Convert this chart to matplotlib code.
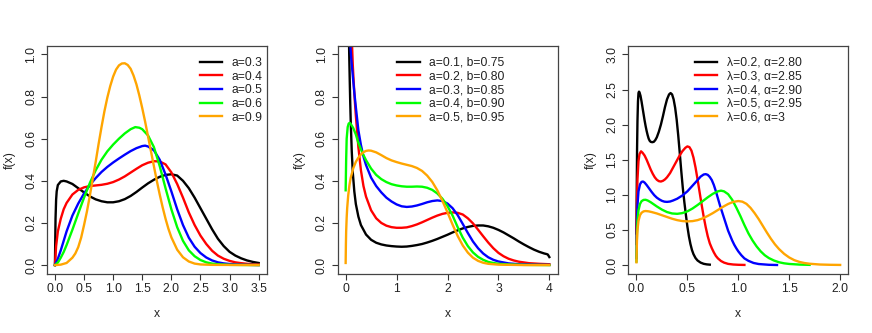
import matplotlib
matplotlib.use("Agg")
from matplotlib import pyplot as plt

plt.rcParams['font.family'] = ['Liberation Sans', 'DejaVu Sans']
plt.rcParams['font.size'] = 8.7

colors = ['black', '#FF0000', '#0000FF', '#00FF00', '#FFA500']

# ---- panel 1 : a = 0.3 .. 0.9
labels1 = ['a=0.3', 'a=0.4', 'a=0.5', 'a=0.6', 'a=0.9']
x1_black = [0, 0.01, 0.02, 0.03, 0.05, 0.1, 0.15, 0.2, 0.3, 0.4, 0.5, 0.6, 0.7, 0.8, 0.9, 1.0, 1.1, 1.2, 1.3, 1.4, 1.5, 1.6, 1.7, 1.8, 1.9, 2.0, 2.1, 2.2, 2.3, 2.4, 2.5, 2.6, 2.7, 2.8, 2.9, 3.0, 3.1, 3.2, 3.3, 3.4, 3.5]
y1_black = [0, 0.22, 0.31, 0.35, 0.38, 0.397, 0.40, 0.397, 0.385, 0.365, 0.345, 0.326, 0.312, 0.303, 0.298, 0.298, 0.303, 0.313, 0.328, 0.347, 0.368, 0.388, 0.405, 0.419, 0.428, 0.431, 0.425, 0.40, 0.365, 0.32, 0.27, 0.22, 0.17, 0.125, 0.09, 0.063, 0.045, 0.032, 0.022, 0.015, 0.01]
x1_red = [0, 0.02, 0.05, 0.1, 0.15, 0.2, 0.3, 0.4, 0.5, 0.6, 0.7, 0.8, 0.9, 1.0, 1.1, 1.2, 1.3, 1.4, 1.5, 1.6, 1.7, 1.8, 1.9, 2.0, 2.1, 2.2, 2.3, 2.4, 2.5, 2.6, 2.7, 2.8, 2.9, 3.0, 3.1, 3.2, 3.3, 3.4, 3.5]
y1_red = [0, 0.09, 0.16, 0.22, 0.265, 0.295, 0.335, 0.357, 0.369, 0.375, 0.378, 0.381, 0.386, 0.394, 0.406, 0.421, 0.439, 0.457, 0.474, 0.486, 0.493, 0.492, 0.478, 0.44, 0.385, 0.32, 0.25, 0.19, 0.14, 0.10, 0.068, 0.045, 0.03, 0.02, 0.013, 0.009, 0.006, 0.004, 0.003]
x1_blue = [0, 0.05, 0.1, 0.15, 0.2, 0.3, 0.4, 0.5, 0.6, 0.7, 0.8, 0.9, 1.0, 1.1, 1.2, 1.3, 1.4, 1.5, 1.55, 1.6, 1.7, 1.8, 1.9, 2.0, 2.1, 2.2, 2.3, 2.4, 2.5, 2.6, 2.7, 2.8, 2.9, 3.0, 3.2, 3.5]
y1_blue = [0, 0.03, 0.07, 0.115, 0.16, 0.235, 0.292, 0.34, 0.38, 0.413, 0.442, 0.466, 0.487, 0.506, 0.524, 0.541, 0.555, 0.565, 0.567, 0.563, 0.545, 0.50, 0.43, 0.35, 0.265, 0.19, 0.13, 0.087, 0.057, 0.036, 0.022, 0.013, 0.008, 0.005, 0.002, 0]
x1_green = [0, 0.05, 0.1, 0.15, 0.2, 0.3, 0.4, 0.5, 0.6, 0.7, 0.8, 0.9, 1.0, 1.1, 1.2, 1.3, 1.38, 1.45, 1.5, 1.6, 1.7, 1.8, 1.9, 2.0, 2.1, 2.2, 2.3, 2.4, 2.5, 2.6, 2.7, 2.8, 3.0, 3.5]
y1_green = [0, 0.012, 0.035, 0.062, 0.095, 0.168, 0.245, 0.32, 0.39, 0.45, 0.50, 0.54, 0.572, 0.60, 0.625, 0.645, 0.655, 0.652, 0.645, 0.615, 0.56, 0.47, 0.365, 0.265, 0.18, 0.115, 0.07, 0.042, 0.024, 0.013, 0.007, 0.004, 0.001, 0]
x1_orange = [0, 0.1, 0.2, 0.3, 0.35, 0.4, 0.45, 0.5, 0.55, 0.6, 0.65, 0.7, 0.75, 0.8, 0.85, 0.9, 0.95, 1.0, 1.05, 1.1, 1.15, 1.2, 1.25, 1.3, 1.35, 1.4, 1.45, 1.5, 1.55, 1.6, 1.65, 1.7, 1.75, 1.8, 1.85, 1.9, 1.95, 2.0, 2.1, 2.2, 2.3, 2.4, 2.5, 2.7, 3.5]
y1_orange = [0, 0.002, 0.01, 0.035, 0.055, 0.085, 0.13, 0.19, 0.255, 0.33, 0.41, 0.49, 0.575, 0.655, 0.73, 0.795, 0.85, 0.895, 0.928, 0.948, 0.957, 0.958, 0.95, 0.932, 0.90, 0.858, 0.805, 0.745, 0.68, 0.61, 0.54, 0.47, 0.40, 0.335, 0.275, 0.22, 0.172, 0.132, 0.073, 0.037, 0.017, 0.007, 0.003, 0.001, 0]

# ---- panel 2 : (a, b) pairs
labels2 = ['a=0.1, b=0.75', 'a=0.2, b=0.80', 'a=0.3, b=0.85', 'a=0.4, b=0.90', 'a=0.5, b=0.95']
x2_black = [0.05, 0.06, 0.07, 0.08, 0.09, 0.1, 0.12, 0.14, 0.17, 0.2, 0.25, 0.3, 0.4, 0.5, 0.6, 0.7, 0.8, 0.9, 1.0, 1.1, 1.2, 1.3, 1.4, 1.5, 1.6, 1.7, 1.8, 1.9, 2.0, 2.1, 2.2, 2.3, 2.4, 2.5, 2.6, 2.7, 2.8, 2.9, 3.0, 3.1, 3.2, 3.3, 3.4, 3.5, 3.6, 3.7, 3.8, 3.9, 3.95, 3.97, 4.0]
y2_black = [1.35, 1.15, 1.0, 0.88, 0.77, 0.68, 0.54, 0.44, 0.35, 0.29, 0.23, 0.19, 0.145, 0.12, 0.106, 0.098, 0.093, 0.09, 0.088, 0.087, 0.088, 0.091, 0.095, 0.10, 0.107, 0.115, 0.124, 0.134, 0.144, 0.155, 0.165, 0.174, 0.181, 0.186, 0.188, 0.188, 0.184, 0.177, 0.167, 0.155, 0.141, 0.127, 0.112, 0.098, 0.085, 0.073, 0.063, 0.055, 0.052, 0.05, 0.038]
x2_red = [0.08, 0.1, 0.12, 0.14, 0.16, 0.18, 0.2, 0.25, 0.3, 0.35, 0.4, 0.5, 0.6, 0.7, 0.8, 0.9, 1.0, 1.1, 1.2, 1.3, 1.4, 1.5, 1.6, 1.7, 1.8, 1.9, 2.0, 2.1, 2.2, 2.3, 2.4, 2.5, 2.6, 2.7, 2.8, 2.9, 3.0, 3.1, 3.2, 3.3, 3.4, 3.6, 3.8, 4.0]
y2_red = [1.6, 1.3, 1.08, 0.95, 0.86, 0.78, 0.71, 0.56, 0.45, 0.375, 0.325, 0.26, 0.222, 0.20, 0.187, 0.18, 0.177, 0.177, 0.179, 0.185, 0.193, 0.203, 0.214, 0.225, 0.235, 0.243, 0.248, 0.25, 0.248, 0.24, 0.222, 0.198, 0.168, 0.137, 0.107, 0.08, 0.058, 0.042, 0.03, 0.022, 0.016, 0.009, 0.006, 0.004]
x2_blue = [0.05, 0.07, 0.09, 0.11, 0.14, 0.17, 0.2, 0.25, 0.3, 0.35, 0.4, 0.5, 0.6, 0.7, 0.8, 0.9, 1.0, 1.1, 1.2, 1.3, 1.4, 1.5, 1.6, 1.7, 1.8, 1.9, 2.0, 2.1, 2.2, 2.3, 2.4, 2.5, 2.6, 2.7, 2.8, 2.9, 3.0, 3.2, 3.4, 3.7, 4.0]
y2_blue = [1.6, 1.25, 1.05, 0.98, 0.90, 0.82, 0.75, 0.64, 0.57, 0.515, 0.475, 0.415, 0.375, 0.345, 0.32, 0.302, 0.288, 0.279, 0.276, 0.278, 0.283, 0.29, 0.298, 0.304, 0.307, 0.304, 0.292, 0.27, 0.237, 0.195, 0.152, 0.112, 0.08, 0.055, 0.037, 0.025, 0.017, 0.008, 0.004, 0.002, 0.001]
x2_green = [0, 0.01, 0.02, 0.04, 0.06, 0.08, 0.1, 0.15, 0.2, 0.25, 0.3, 0.35, 0.4, 0.5, 0.6, 0.7, 0.8, 0.9, 1.0, 1.1, 1.2, 1.3, 1.4, 1.5, 1.6, 1.7, 1.8, 1.9, 2.0, 2.1, 2.2, 2.3, 2.4, 2.5, 2.6, 2.7, 2.8, 2.9, 3.0, 3.2, 3.5, 4.0]
y2_green = [0.355, 0.5, 0.6, 0.655, 0.672, 0.675, 0.67, 0.65, 0.62, 0.58, 0.55, 0.522, 0.498, 0.458, 0.428, 0.408, 0.394, 0.384, 0.378, 0.374, 0.372, 0.372, 0.373, 0.372, 0.367, 0.357, 0.34, 0.315, 0.28, 0.235, 0.18, 0.13, 0.09, 0.06, 0.039, 0.025, 0.015, 0.01, 0.006, 0.003, 0.001, 0]
x2_orange = [0, 0.005, 0.01, 0.02, 0.03, 0.05, 0.075, 0.1, 0.15, 0.2, 0.25, 0.3, 0.35, 0.4, 0.45, 0.5, 0.6, 0.7, 0.8, 0.9, 1.0, 1.1, 1.2, 1.3, 1.4, 1.5, 1.6, 1.7, 1.8, 1.9, 2.0, 2.1, 2.2, 2.3, 2.4, 2.5, 2.6, 2.7, 2.8, 3.0, 3.5, 4.0]
y2_orange = [0.01, 0.1, 0.16, 0.225, 0.27, 0.33, 0.38, 0.415, 0.46, 0.49, 0.51, 0.525, 0.536, 0.542, 0.544, 0.543, 0.535, 0.522, 0.508, 0.497, 0.489, 0.482, 0.476, 0.47, 0.461, 0.447, 0.425, 0.395, 0.355, 0.305, 0.25, 0.192, 0.138, 0.093, 0.059, 0.035, 0.02, 0.011, 0.006, 0.002, 0, 0]

# ---- panel 3 : (lambda, alpha) pairs
labels3 = ['\u03bb=0.2, \u03b1=2.80', '\u03bb=0.3, \u03b1=2.85', '\u03bb=0.4, \u03b1=2.90', '\u03bb=0.5, \u03b1=2.95', '\u03bb=0.6, \u03b1=3']
x3_black = [0, 0.003, 0.006, 0.01, 0.015, 0.02, 0.025, 0.03, 0.04, 0.05, 0.06, 0.07, 0.08, 0.09, 0.1, 0.11, 0.12, 0.13, 0.14, 0.155, 0.17, 0.185, 0.2, 0.22, 0.24, 0.26, 0.28, 0.3, 0.32, 0.335, 0.35, 0.365, 0.38, 0.395, 0.41, 0.425, 0.44, 0.455, 0.47, 0.485, 0.5, 0.515, 0.53, 0.545, 0.56, 0.58, 0.6, 0.63, 0.66, 0.69, 0.72]
y3_black = [0.45, 1.1, 1.65, 2.05, 2.33, 2.45, 2.47, 2.46, 2.41, 2.33, 2.24, 2.15, 2.06, 1.98, 1.91, 1.85, 1.80, 1.77, 1.755, 1.75, 1.755, 1.78, 1.82, 1.90, 2.0, 2.12, 2.25, 2.36, 2.43, 2.45, 2.43, 2.36, 2.24, 2.07, 1.85, 1.60, 1.34, 1.10, 0.90, 0.72, 0.55, 0.41, 0.30, 0.215, 0.155, 0.10, 0.065, 0.035, 0.018, 0.01, 0.006]
x3_red = [0, 0.005, 0.01, 0.02, 0.03, 0.045, 0.06, 0.08, 0.1, 0.12, 0.14, 0.16, 0.18, 0.2, 0.22, 0.24, 0.26, 0.28, 0.3, 0.33, 0.36, 0.39, 0.42, 0.45, 0.48, 0.5, 0.52, 0.54, 0.56, 0.58, 0.6, 0.62, 0.64, 0.66, 0.68, 0.7, 0.72, 0.74, 0.76, 0.78, 0.8, 0.83, 0.86, 0.9, 0.95, 1.0, 1.06]
y3_red = [0.3, 0.9, 1.22, 1.48, 1.58, 1.62, 1.60, 1.56, 1.50, 1.43, 1.36, 1.30, 1.25, 1.215, 1.195, 1.19, 1.20, 1.22, 1.25, 1.31, 1.39, 1.47, 1.55, 1.62, 1.67, 1.69, 1.68, 1.63, 1.53, 1.39, 1.22, 1.04, 0.86, 0.69, 0.54, 0.41, 0.31, 0.24, 0.18, 0.13, 0.095, 0.058, 0.035, 0.017, 0.008, 0.004, 0.002]
x3_blue = [0, 0.005, 0.01, 0.02, 0.035, 0.05, 0.065, 0.08, 0.1, 0.125, 0.15, 0.175, 0.2, 0.225, 0.25, 0.275, 0.3, 0.33, 0.36, 0.4, 0.45, 0.5, 0.55, 0.6, 0.63, 0.66, 0.68, 0.7, 0.72, 0.74, 0.76, 0.78, 0.8, 0.82, 0.84, 0.86, 0.88, 0.9, 0.92, 0.94, 0.96, 0.98, 1.0, 1.03, 1.06, 1.1, 1.15, 1.2, 1.3, 1.38]
y3_blue = [0.1, 0.6, 0.85, 1.05, 1.15, 1.185, 1.19, 1.175, 1.14, 1.09, 1.04, 0.995, 0.96, 0.935, 0.915, 0.903, 0.90, 0.905, 0.92, 0.945, 0.99, 1.05, 1.13, 1.21, 1.26, 1.29, 1.295, 1.285, 1.255, 1.21, 1.14, 1.05, 0.95, 0.85, 0.76, 0.67, 0.58, 0.49, 0.42, 0.35, 0.29, 0.24, 0.195, 0.14, 0.095, 0.06, 0.03, 0.015, 0.004, 0.001]
x3_green = [0, 0.005, 0.01, 0.02, 0.035, 0.05, 0.07, 0.09, 0.11, 0.14, 0.17, 0.2, 0.25, 0.3, 0.35, 0.4, 0.45, 0.5, 0.55, 0.6, 0.65, 0.7, 0.75, 0.8, 0.83, 0.86, 0.9, 0.94, 0.98, 1.02, 1.06, 1.1, 1.14, 1.18, 1.22, 1.26, 1.3, 1.35, 1.4, 1.45, 1.5, 1.6, 1.7]
y3_green = [0.05, 0.45, 0.62, 0.78, 0.87, 0.91, 0.928, 0.93, 0.92, 0.895, 0.865, 0.835, 0.79, 0.755, 0.735, 0.73, 0.74, 0.765, 0.805, 0.855, 0.91, 0.965, 1.015, 1.05, 1.06, 1.05, 1.01, 0.93, 0.82, 0.70, 0.57, 0.45, 0.35, 0.265, 0.195, 0.14, 0.10, 0.065, 0.04, 0.025, 0.016, 0.007, 0.003]
x3_orange = [0, 0.005, 0.01, 0.02, 0.035, 0.05, 0.07, 0.09, 0.12, 0.15, 0.2, 0.25, 0.3, 0.35, 0.4, 0.45, 0.5, 0.55, 0.6, 0.65, 0.7, 0.75, 0.8, 0.85, 0.9, 0.95, 1.0, 1.04, 1.08, 1.12, 1.16, 1.2, 1.24, 1.28, 1.32, 1.36, 1.4, 1.45, 1.5, 1.55, 1.6, 1.65, 1.7, 1.8, 1.9, 2.0]
y3_orange = [0.04, 0.35, 0.5, 0.63, 0.71, 0.745, 0.765, 0.77, 0.765, 0.755, 0.735, 0.71, 0.685, 0.66, 0.64, 0.627, 0.622, 0.626, 0.64, 0.665, 0.70, 0.74, 0.785, 0.83, 0.87, 0.90, 0.912, 0.903, 0.872, 0.815, 0.74, 0.655, 0.56, 0.465, 0.375, 0.295, 0.228, 0.16, 0.108, 0.07, 0.045, 0.029, 0.019, 0.008, 0.004, 0.002]

panels = [
    dict(xs=[x1_black, x1_red, x1_blue, x1_green, x1_orange],
         ys=[y1_black, y1_red, y1_blue, y1_green, y1_orange],
         labels=labels1, xlim=(0, 3.5), ylim=(0, 1),
         xticks=[0, 0.5, 1, 1.5, 2, 2.5, 3, 3.5], xfmt='%.1f',
         yticks=[0, 0.2, 0.4, 0.6, 0.8, 1.0], leg=0.695),
    dict(xs=[x2_black, x2_red, x2_blue, x2_green, x2_orange],
         ys=[y2_black, y2_red, y2_blue, y2_green, y2_orange],
         labels=labels2, xlim=(0, 4), ylim=(0, 1),
         xticks=[0, 1, 2, 3, 4], xfmt='%d',
         yticks=[0, 0.2, 0.4, 0.6, 0.8, 1.0], leg=0.272),
    dict(xs=[x3_black, x3_red, x3_blue, x3_green, x3_orange],
         ys=[y3_black, y3_red, y3_blue, y3_green, y3_orange],
         labels=labels3, xlim=(0, 2), ylim=(0, 3),
         xticks=[0, 0.5, 1, 1.5, 2], xfmt='%.1f',
         yticks=[0, 0.5, 1, 1.5, 2, 2.5, 3], leg=0.303),
]

fig = plt.figure(figsize=(8.72, 3.33), dpi=100)
lefts = [46.8, 337.5, 628.3]

for left, p in zip(lefts, panels):
    ax = fig.add_axes([left / 872, 1 - 273.5 / 333, 220 / 872, 227.5 / 333])
    for xv, yv, c, lab in zip(p['xs'], p['ys'], colors, p['labels']):
        ax.plot(xv, yv, color=c, lw=1.7, label=lab, solid_joinstyle='round')
    lo, hi = p['xlim']
    ax.set_xlim(lo - 0.04 * (hi - lo), hi + 0.04 * (hi - lo))
    lo, hi = p['ylim']
    ax.set_ylim(lo - 0.04 * (hi - lo), hi + 0.04 * (hi - lo))
    ax.set_xticks(p['xticks'])
    ax.set_xticklabels([p['xfmt'] % t for t in p['xticks']])
    ax.set_yticks(p['yticks'])
    ax.set_yticklabels(['%.1f' % t for t in p['yticks']], rotation=90, va='center')
    ax.tick_params(direction='out', length=4.5, width=0.8, color='#333333',
                   labelcolor='#222222', pad=2.5)
    for s in ax.spines.values():
        s.set_color('#444444')
        s.set_linewidth(0.9)
    ax.set_xlabel('x', color='#222222', labelpad=9)
    ax.set_ylabel('f(x)', color='#222222', labelpad=7)
    ax.legend(loc='upper left', bbox_to_anchor=(p['leg'], 0.952), frameon=False,
              borderpad=0, borderaxespad=0, handlelength=1.85, handletextpad=0.8,
              labelspacing=0.14, labelcolor='#222222')

fig.savefig('out.png', dpi=100)
